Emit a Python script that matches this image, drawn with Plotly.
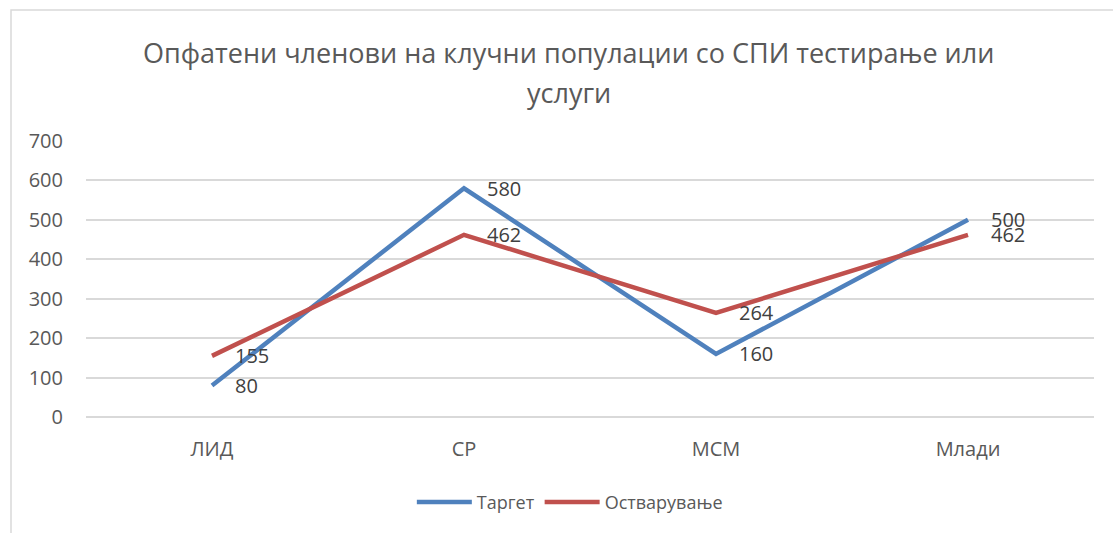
import plotly.graph_objects as go

categories = ["ЛИД", "СР", "МСМ", "Млади"]
target = [80, 580, 160, 500]
achieved = [155, 462, 264, 462]
series_names = ["Таргет", "Остварување"]
title_lines = ["Опфатени членови на клучни популации со СПИ тестирање или", "услуги"]
y_ticks = [0, 100, 200, 300, 400, 500, 600, 700]

FONT = "Open Sans"
BLUE = "#4F81BD"
RED = "#C0504D"

fig = go.Figure()
fig.add_trace(go.Scatter(x=categories, y=target, mode="lines", name=series_names[0],
                         line=dict(color=BLUE, width=4.5)))
fig.add_trace(go.Scatter(x=categories, y=achieved, mode="lines", name=series_names[1],
                         line=dict(color=RED, width=4.5)))

annotations = []
for series in (target, achieved):
    for c, v in zip(categories, series):
        annotations.append(dict(x=c, y=v, xref="x", yref="y", text=str(v), showarrow=False,
                                xanchor="left", yanchor="middle", xshift=21,
                                font=dict(family=FONT, size=20, color="#404040")))

annotations.append(dict(x=0.4787, y=1.320, xref="paper", yref="paper", text=title_lines[0],
                        showarrow=False, xanchor="center", yanchor="middle",
                        font=dict(family=FONT, size=27, color="#595959")))
annotations.append(dict(x=0.4787, y=1.176, xref="paper", yref="paper", text=title_lines[1],
                        showarrow=False, xanchor="center", yanchor="middle",
                        font=dict(family=FONT, size=27, color="#595959")))

fig.update_layout(
    width=1113, height=533,
    margin=dict(l=86, r=19, t=141, b=114),
    paper_bgcolor="white", plot_bgcolor="white",
    annotations=annotations,
    showlegend=True,
    legend=dict(orientation="h", x=0.48, xanchor="center", y=-0.309, yanchor="middle",
                font=dict(family=FONT, size=18, color="#595959"),
                itemwidth=55, traceorder="normal"),
    xaxis=dict(type="category", range=[-0.5, 3.5], showgrid=False, showline=False,
               ticks="", ticklabelstandoff=18,
               tickfont=dict(family=FONT, size=20, color="#595959"), fixedrange=True),
    yaxis=dict(range=[0, 700], tickvals=y_ticks, showgrid=True, gridcolor="#D9D9D9",
               gridwidth=1.5, zeroline=True, zerolinecolor="#D9D9D9", zerolinewidth=1.5,
               showline=False, ticks="", ticklabelstandoff=22,
               tickfont=dict(family=FONT, size=20, color="#595959")),
    shapes=[dict(type="rect", xref="paper", yref="paper", x0=-0.0744, x1=1.2, y0=-0.6, y1=1.4748,
                 line=dict(color="#D9D9D9", width=1.5), fillcolor="rgba(0,0,0,0)", layer="below")],
)

fig.write_html("out.html", config={"displayModeBar": False},
               post_script="document.body.style.margin='0px';")
